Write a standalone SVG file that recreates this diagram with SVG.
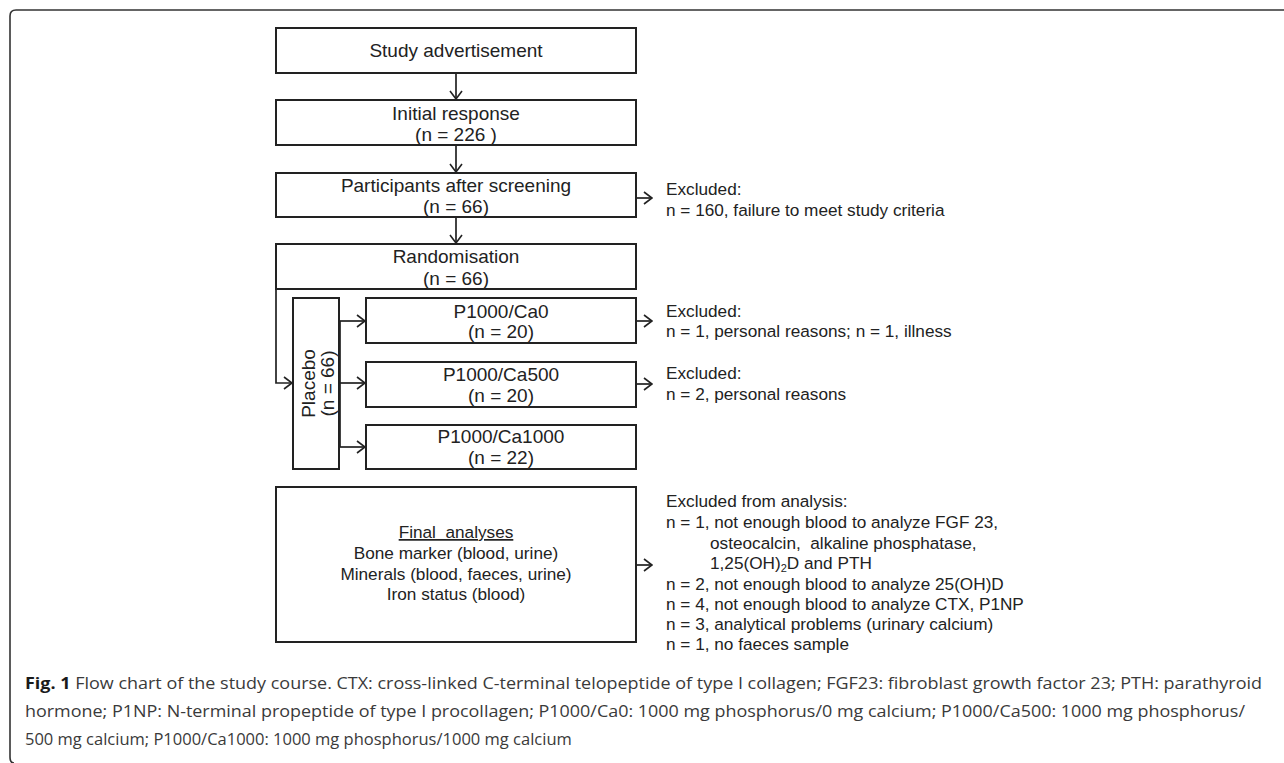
<svg xmlns="http://www.w3.org/2000/svg" width="1284" height="763" viewBox="0 0 1284 763">
<style>
.bx{fill:#fff;stroke:#222;stroke-width:2}
.t{font-family:"Liberation Sans",Arial,sans-serif;font-size:19px;fill:#222;text-anchor:middle}
.e{font-family:"Liberation Sans",Arial,sans-serif;font-size:17.2px;fill:#222}
.f{font-family:"Liberation Sans",Arial,sans-serif;font-size:17.2px;fill:#222;text-anchor:middle}
.c{stroke:#222;stroke-width:1.7;fill:none}
.cap{font-family:"Open Sans","Noto Sans",sans-serif;font-size:16.5px;fill:#3a3a3a}
</style>
<defs>
<marker id="ah" viewBox="0 0 10 14" refX="9" refY="7" markerWidth="10" markerHeight="14" markerUnits="userSpaceOnUse" orient="auto">
<path d="M1,1 L9,7 L1,13" fill="none" stroke="#222" stroke-width="1.6"/>
</marker>
</defs>
<rect width="1284" height="763" fill="#fff"/>
<path d="M1290,10 H16 Q10,10 10,16 V757 Q10,763 14,763" fill="none" stroke="#333" stroke-width="1.6"/>

<g id="connectors">
<path class="c" d="M456,73 V99" marker-end="url(#ah)"/>
<path class="c" d="M456,145 V172" marker-end="url(#ah)"/>
<path class="c" d="M456,217 V243" marker-end="url(#ah)"/>
<path class="c" d="M636,198 H652" marker-end="url(#ah)"/>
<path class="c" d="M276,289 V383 H292" marker-end="url(#ah)"/>
<path class="c" d="M340,321 V447"/>
<path class="c" d="M340,321 H365" marker-end="url(#ah)"/>
<path class="c" d="M340,383 H365" marker-end="url(#ah)"/>
<path class="c" d="M340,447 H365" marker-end="url(#ah)"/>
<path class="c" d="M636,321 H652" marker-end="url(#ah)"/>
<path class="c" d="M636,384 H652" marker-end="url(#ah)"/>
<path class="c" d="M636,565 H652" marker-end="url(#ah)"/>
</g>

<g id="advert">
<rect class="bx" x="276" y="28" width="360" height="45"/>
<text class="t" x="456" y="57">Study advertisement</text>
</g>
<g id="initial">
<rect class="bx" x="276" y="100" width="360" height="45"/>
<text class="t" x="456" y="120">Initial response</text>
<text class="t" x="456" y="141">(n = 226 )</text>
</g>
<g id="screening">
<rect class="bx" x="276" y="173" width="360" height="44"/>
<text class="t" x="456" y="192">Participants after screening</text>
<text class="t" x="456" y="213">(n = 66)</text>
</g>
<g id="excluded1">
<text class="e" x="666" y="195">Excluded:</text>
<text class="e" x="666" y="216">n = 160, failure to meet study criteria</text>
</g>
<g id="randomisation">
<rect class="bx" x="276" y="244" width="360" height="45"/>
<text class="t" x="456" y="263">Randomisation</text>
<text class="t" x="456" y="285">(n = 66)</text>
</g>
<g id="placebo">
<rect class="bx" x="293" y="298" width="46" height="171"/>
<text class="t" transform="translate(315,383.5) rotate(-90)">Placebo</text>
<text class="t" transform="translate(334,383.5) rotate(-90)">(n = 66)</text>
</g>
<g id="ca0">
<rect class="bx" x="366" y="298" width="270" height="45"/>
<text class="t" x="501" y="318">P1000/Ca0</text>
<text class="t" x="501" y="338">(n = 20)</text>
</g>
<g id="excluded2">
<text class="e" x="666" y="317">Excluded:</text>
<text class="e" x="666" y="337">n = 1, personal reasons; n = 1, illness</text>
</g>
<g id="ca500">
<rect class="bx" x="366" y="362" width="270" height="45"/>
<text class="t" x="501" y="381">P1000/Ca500</text>
<text class="t" x="501" y="402">(n = 20)</text>
</g>
<g id="excluded3">
<text class="e" x="666" y="379">Excluded:</text>
<text class="e" x="666" y="400">n = 2, personal reasons</text>
</g>
<g id="ca1000">
<rect class="bx" x="366" y="425" width="270" height="44"/>
<text class="t" x="501" y="443">P1000/Ca1000</text>
<text class="t" x="501" y="464">(n = 22)</text>
</g>
<g id="final">
<rect class="bx" x="276" y="487" width="360" height="155"/>
<text class="f" x="456" y="538" text-decoration="underline" xml:space="preserve">Final  analyses</text>
<text class="f" x="456" y="559">Bone marker (blood, urine)</text>
<text class="f" x="456" y="580">Minerals (blood, faeces, urine)</text>
<text class="f" x="456" y="600">Iron status (blood)</text>
</g>
<g id="excluded4">
<text class="e" x="666" y="507">Excluded from analysis:</text>
<text class="e" x="666" y="528">n = 1, not enough blood to analyze FGF 23,</text>
<text class="e" x="710" y="549" xml:space="preserve">osteocalcin,  alkaline phosphatase,</text>
<text class="e" x="710" y="569">1,25(OH)<tspan font-size="11" dy="3">2</tspan><tspan dy="-3">D and PTH</tspan></text>
<text class="e" x="666" y="590">n = 2, not enough blood to analyze 25(OH)D</text>
<text class="e" x="666" y="610">n = 4, not enough blood to analyze CTX, P1NP</text>
<text class="e" x="666" y="630">n = 3, analytical problems (urinary calcium)</text>
<text class="e" x="666" y="650">n = 1, no faeces sample</text>
</g>
<g id="caption">
<text class="cap" x="25" y="689" textLength="1237" lengthAdjust="spacingAndGlyphs"><tspan font-weight="bold" fill="#1a1a1a">Fig. 1</tspan> Flow chart of the study course. CTX: cross-linked C-terminal telopeptide of type I collagen; FGF23: fibroblast growth factor 23; PTH: parathyroid</text>
<text class="cap" x="25" y="717" textLength="1220" lengthAdjust="spacingAndGlyphs">hormone; P1NP: N-terminal propeptide of type I procollagen; P1000/Ca0: 1000 mg phosphorus/0 mg calcium; P1000/Ca500: 1000 mg phosphorus/</text>
<text class="cap" x="25" y="745">500 mg calcium; P1000/Ca1000: 1000 mg phosphorus/1000 mg calcium</text>
</g>
</svg>
